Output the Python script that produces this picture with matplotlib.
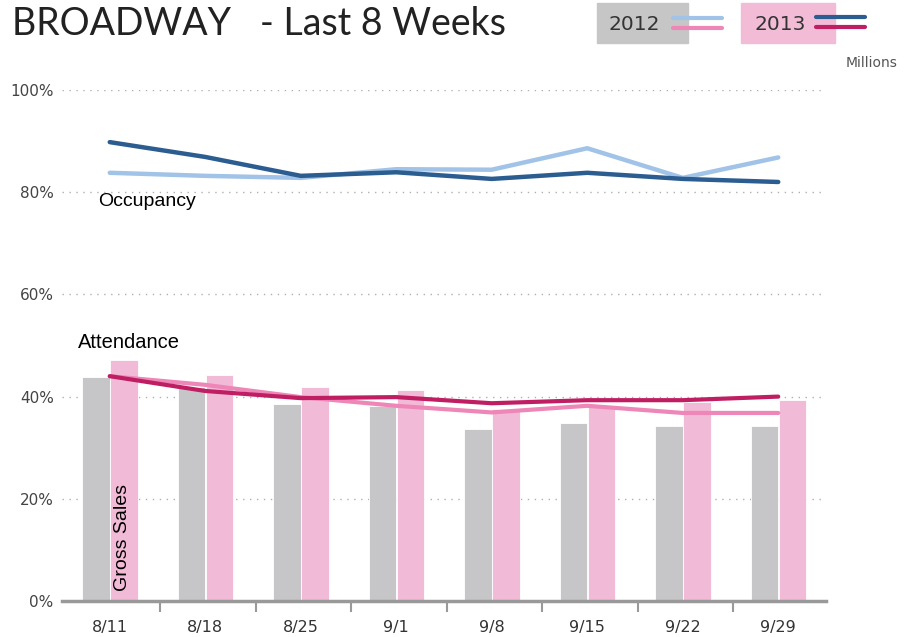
import matplotlib.pyplot as plt
import matplotlib.patches as mpatches
from matplotlib.lines import Line2D
import numpy as np

# data (percent)
weeks = ['8/11', '8/18', '8/25', '9/1', '9/8', '9/15', '9/22', '9/29']
occupancy_2012 = [83.8, 83.2, 82.8, 84.5, 84.4, 88.6, 82.8, 86.8]
occupancy_2013 = [89.8, 86.9, 83.2, 83.9, 82.6, 83.8, 82.6, 82.0]
attendance_2012 = [44.0, 42.3, 39.9, 38.2, 36.9, 38.2, 36.8, 36.8]
attendance_2013 = [44.0, 41.1, 39.7, 39.9, 38.7, 39.3, 39.3, 40.0]
gross_2012 = [43.9, 41.9, 38.6, 38.1, 33.7, 34.9, 34.3, 34.3]
gross_2013 = [47.2, 44.2, 41.8, 41.2, 37.6, 38.0, 39.0, 39.3]

# colours
grayBar = '#c6c6c8'
pinkBar = '#f1bad6'
lightBlue = '#a0c3e7'
darkBlue = '#2b5d91'
lightPink = '#ee86b7'
darkPink = '#bf1f62'

fig = plt.figure(figsize=(9.11, 6.37), dpi=100)
ax = fig.add_axes([62 / 911, 36 / 637, 764 / 911, 511 / 637])

x = np.arange(len(weeks))
w = 0.29
ax.bar(x - 0.145, gross_2012, width=w, color=grayBar, edgecolor='white', linewidth=0.6, zorder=2)
ax.bar(x + 0.15, gross_2013, width=w, color=pinkBar, edgecolor='white', linewidth=0.6, zorder=2)

ax.plot(x, occupancy_2012, color=lightBlue, lw=3.2, solid_capstyle='round', zorder=3)
ax.plot(x, occupancy_2013, color=darkBlue, lw=3.2, solid_capstyle='round', zorder=4)
ax.plot(x, attendance_2012, color=lightPink, lw=3.0, solid_capstyle='round', zorder=3)
ax.plot(x, attendance_2013, color=darkPink, lw=3.0, solid_capstyle='round', zorder=4)

ax.set_xlim(-0.5, 7.5)
ax.set_ylim(0, 100)
ax.set_yticks([0, 20, 40, 60, 80, 100])
ax.set_yticklabels(['0%', '20%', '40%', '60%', '80%', '100%'])
ax.yaxis.grid(True, linestyle=(0, (1, 4)), color='#b0b0b0', linewidth=1.0, zorder=1)
ax.set_axisbelow(True)
ax.tick_params(axis='y', length=0, labelsize=11, labelcolor='#444444', pad=6)

# category labels with boundary ticks
ax.set_xticks(x)
ax.set_xticklabels(weeks)
ax.tick_params(axis='x', length=0, labelsize=11.5, labelcolor='#333333', pad=14)
ax.set_xticks(x[:-1] + 0.53, minor=True)
ax.tick_params(axis='x', which='minor', length=8, width=1.5, color='#999999', direction='out')

for s in ['top', 'right', 'left']:
    ax.spines[s].set_visible(False)
ax.spines['bottom'].set_color('#999999')
ax.spines['bottom'].set_linewidth(2.5)

# annotations
ax.text(-0.12, 79.8, 'Occupancy', fontsize=14, va='top', ha='left', family='Liberation Sans')
ax.text(-0.33, 48.8, 'Attendance', fontsize=14.5, va='bottom', ha='left', family='Liberation Sans')
ax.text(0.13, 2.0, 'Gross Sales', fontsize=14, rotation=90, va='bottom', ha='center', zorder=5,
        family='Liberation Sans')

# title
fig.text(12 / 911, 1 - 24 / 637, 'BROADWAY   - Last 8 Weeks', fontsize=27, va='center', ha='left',
         family='Lato', color='#222222')

# custom legend
fig.patches.append(mpatches.Rectangle((597 / 911, 1 - 43 / 637), 91 / 911, 40 / 637,
                                      transform=fig.transFigure, color='#c6c6c6', zorder=0))
fig.patches.append(mpatches.Rectangle((741 / 911, 1 - 43 / 637), 94 / 911, 40 / 637,
                                      transform=fig.transFigure, color='#f2bcd6', zorder=0))
fig.text(634 / 911, 1 - 24 / 637, '2012', fontsize=14.5, ha='center', va='center', color='#333333')
fig.text(780 / 911, 1 - 24 / 637, '2013', fontsize=14.5, ha='center', va='center', color='#333333')
for (x0, x1, y, c) in [(673, 722, 18, lightBlue), (673, 722, 28, lightPink),
                       (816, 865, 17, darkBlue), (816, 865, 27, darkPink)]:
    fig.lines.append(Line2D([x0 / 911, x1 / 911], [1 - y / 637, 1 - y / 637], transform=fig.transFigure,
                            color=c, lw=3, solid_capstyle='round'))
fig.text(872 / 911, 1 - 63 / 637, 'Millions', fontsize=10, ha='center', va='center', color='#555555')

plt.savefig('out.png', dpi=100)
